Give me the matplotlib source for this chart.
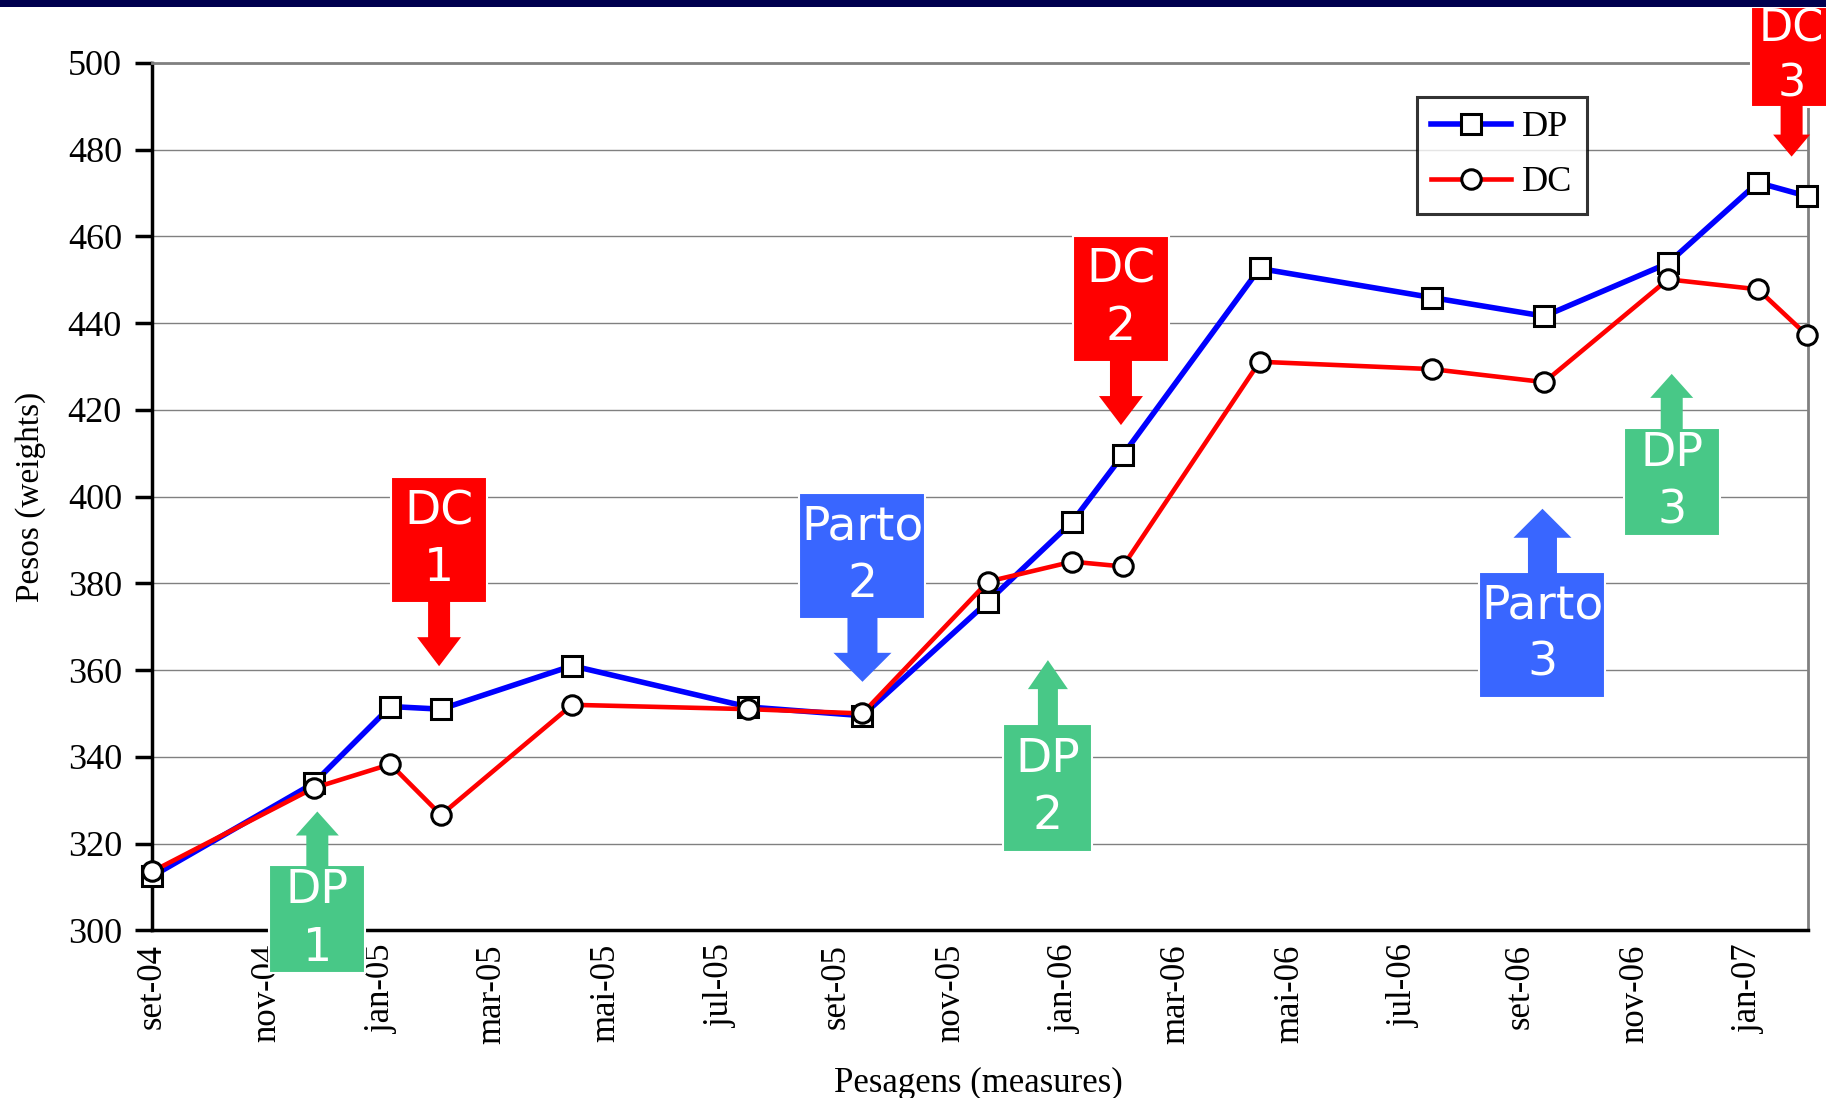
import datetime as dt

import matplotlib

matplotlib.use("Agg")
import matplotlib.dates as mdates
import matplotlib.pyplot as plt
import matplotlib.transforms as mtransforms
from matplotlib.patches import Polygon, Rectangle

# --- data -------------------------------------------------------------
weigh_dates = [
    "2004-09-01", "2004-11-26", "2005-01-06", "2005-02-02", "2005-04-13",
    "2005-07-16", "2005-09-15", "2005-11-21", "2006-01-05", "2006-02-01",
    "2006-04-15", "2006-07-16", "2006-09-14", "2006-11-19", "2007-01-06",
    "2007-02-01",
]
dp_weights = [312.5, 333.9, 351.6, 351.0, 361.0, 351.5, 349.5, 375.8,
              394.2, 409.6, 452.6, 445.9, 441.6, 453.8, 472.4, 469.3]
dc_weights = [313.6, 332.8, 338.3, 326.6, 352.0, 351.0, 350.0, 380.4,
              385.0, 383.9, 431.1, 429.4, 426.4, 450.1, 447.8, 437.3]

tick_dates = [
    "2004-09-01", "2004-11-01", "2005-01-01", "2005-03-01", "2005-05-01",
    "2005-07-01", "2005-09-01", "2005-11-01", "2006-01-01", "2006-03-01",
    "2006-05-01", "2006-07-01", "2006-09-01", "2006-11-01", "2007-01-01",
]
tick_labels = [
    "set-04", "nov-04", "jan-05", "mar-05", "mai-05", "jul-05", "set-05",
    "nov-05", "jan-06", "mar-06", "mai-06", "jul-06", "set-06", "nov-06",
    "jan-07",
]

# events: label, date of arrow tip, weight at arrow tip, arrow direction
event_labels = ["DP\n1", "DC\n1", "Parto\n2", "DP\n2", "DC\n2", "Parto\n3", "DP\n3", "DC\n3"]
event_dates = ["2004-11-28", "2005-02-01", "2005-09-15", "2005-12-23",
               "2006-01-31", "2006-09-13", "2006-11-21", "2007-01-24"]
event_tips = [327.4, 360.9, 357.3, 362.3, 416.5, 397.2, 428.3, 478.4]
event_dirs = ["up", "down", "down", "up", "down", "up", "up", "down"]

RED = "#ff0000"
BLUE_EV = "#3966ff"
GREEN = "#48c887"
event_colors = {"DP": GREEN, "DC": RED, "Parto": BLUE_EV}
# box w, box h, shaft w, shaft len, head w, head len (pixels), font size (pt)
event_geom = {
    "DP\n1": (96, 108, 22, 30, 43, 24, 33),
    "DC\n1": (96, 126, 22, 34, 44, 29, 34),
    "Parto\n2": (126, 126, 30, 34, 58, 29, 34),
    "DP\n2": (89, 128, 20, 35, 40, 29, 34),
    "DC\n2": (96, 126, 22, 34, 44, 29, 34),
    "Parto\n3": (126, 126, 29, 34, 58, 29, 34),
    "DP\n3": (96, 108, 22, 30, 43, 24, 33),
    "DC\n3": (82, 100, 22, 28, 37, 22, 32),
}


def to_date(s):
    return dt.datetime.strptime(s, "%Y-%m-%d")


SERIF = ["Liberation Serif", "DejaVu Serif"]

fig = plt.figure(figsize=(18.26, 10.98), dpi=100)
ax = fig.add_axes([0.0835, 0.1527, 0.9069, 0.7900])

x = [to_date(d) for d in weigh_dates]
ax.plot(x, dp_weights, color="#0000ff", linewidth=4.0, marker="s", markersize=15,
        markerfacecolor="white", markeredgecolor="black", markeredgewidth=2.2,
        label="DP", clip_on=False, zorder=3)
ax.plot(x, dc_weights, color=RED, linewidth=3.3, marker="o", markersize=14,
        markerfacecolor="white", markeredgecolor="black", markeredgewidth=2.2,
        label="DC", clip_on=False, zorder=4)

ax.set_xlim(to_date("2004-09-01"), to_date("2007-02-02"))
ax.set_ylim(300, 500)
ax.set_yticks(range(300, 501, 20))
ax.set_xticks([to_date(d) for d in tick_dates])
ax.set_xticklabels(tick_labels, rotation=90, fontfamily=SERIF, fontsize=25)
for lab in ax.get_yticklabels():
    lab.set_fontfamily(SERIF)
    lab.set_fontsize(26)
ax.tick_params(axis="y", length=12, width=2.5, pad=10, direction="out")
ax.tick_params(axis="x", length=0, pad=10)

ax.grid(axis="y", color="#808080", linewidth=1.0)
ax.set_axisbelow(True)
for side in ("left", "bottom"):
    ax.spines[side].set_linewidth(2.5)
    ax.spines[side].set_color("black")
for side in ("top", "right"):
    ax.spines[side].set_linewidth(2.0)
    ax.spines[side].set_color("#808080")

ax.set_ylabel("Pesos (weights)", fontfamily=SERIF, fontsize=24)
ax.yaxis.set_label_coords(-0.064, 0.5)
ax.set_xlabel("Pesagens (measures)", fontfamily=SERIF, fontsize=25)
ax.xaxis.set_label_coords(0.4985, -0.158)

leg = ax.legend(loc="upper right", bbox_to_anchor=(0.866, 0.961),
                prop={"family": SERIF, "size": 26}, frameon=True,
                fancybox=False, edgecolor="black", handlelength=2.2,
                handletextpad=0.3, borderpad=0.4, labelspacing=0.6,
                borderaxespad=0.0)
leg.get_frame().set_linewidth(2.2)
leg.set_zorder(6)

# --- event boxes with block arrows, laid out in pixels -------------------
ident = mtransforms.IdentityTransform()
fig.canvas.draw()
for label, dstr, tip, direction in zip(event_labels, event_dates, event_tips, event_dirs):
    bw, bh, sw, sl, hw, hl, fs = event_geom[label]
    color = event_colors[label.split("\n")[0]]
    tx, ty = ax.transData.transform((mdates.date2num(to_date(dstr)), tip))
    s = 1 if direction == "down" else -1  # +1: box sits above the tip
    base = ty + s * hl
    box_near = base + s * sl
    arrow = Polygon(
        [(tx, ty), (tx - hw / 2, base), (tx - sw / 2, base),
         (tx - sw / 2, box_near + s * 3), (tx + sw / 2, box_near + s * 3),
         (tx + sw / 2, base), (tx + hw / 2, base)],
        closed=True, facecolor=color, edgecolor="none", transform=ident,
        zorder=8)
    y0 = box_near if s > 0 else box_near - bh
    box = Rectangle((tx - bw / 2, y0), bw, bh, facecolor=color,
                    edgecolor="white", linewidth=1.5, transform=ident, zorder=7)
    fig.add_artist(box)
    fig.add_artist(arrow)
    fig.text(tx, y0 + bh / 2, label, transform=ident, ha="center", va="center",
             color="white", fontsize=fs, family="DejaVu Sans", linespacing=1.35,
             zorder=9)

# navy band across the top of the slide
fig.add_artist(Rectangle((0, 0.9935), 1, 0.0065, transform=fig.transFigure,
                         facecolor="#00004f", edgecolor="none", zorder=20))

fig.savefig("out.png", dpi=100)
